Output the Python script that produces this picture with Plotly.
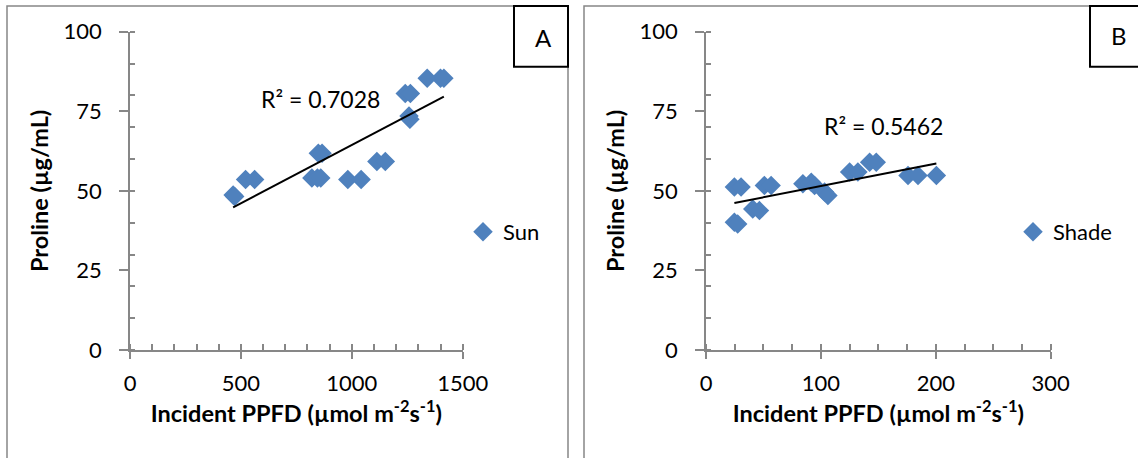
import numpy as np
import plotly.graph_objects as go

# ---- data ----
sun_ppfd = [465, 472, 521, 562, 820, 845, 860, 849, 866, 982, 1042, 1113, 1151,
            1241, 1264, 1258, 1262, 1340, 1400, 1415]
sun_proline = [48.7, 48.2, 53.6, 53.6, 54.0, 54.0, 54.0, 61.8, 61.8, 53.6, 53.6,
               59.2, 59.2, 80.6, 80.6, 73.5, 72.5, 85.4, 85.4, 85.4]
shade_ppfd = [24.7, 30.5, 24.7, 27.6, 40.7, 46.5, 50.8, 56.7, 84.3, 91.6, 94.5,
              103.2, 106.1, 125.0, 132.2, 142.4, 148.2, 175.8, 184.5, 200.5]
shade_proline = [51.2, 51.2, 40.1, 39.6, 44.3, 43.8, 51.7, 51.7, 52.2, 52.7, 51.7,
                 49.6, 48.5, 55.9, 55.9, 59.0, 59.0, 54.8, 54.8, 54.8]
r2_labels = ["R² = 0.7028", "R² = 0.5462"]
panel_labels = ["A", "B"]
series_names = ["Sun", "Shade"]
xtitle = "Incident PPFD (µmol m<sup>-2</sup>s<sup>-1</sup>)"
ytitle = "Proline (µg/mL)"

W, H = 1138, 458
FONT = "Lato, 'Open Sans', sans-serif"
BLUE = "#4F81BD"
GRAY = "#878787"


def px(x):
    return x / W


def py(y):
    return 1 - y / H


def trend(xs, ys):
    xs = np.array(xs, float)
    ys = np.array(ys, float)
    m, b = np.polyfit(xs, ys, 1)
    xx = np.array([xs.min(), xs.max()])
    return xx, m * xx + b


fig = go.Figure()

fig.add_trace(go.Scatter(x=sun_ppfd, y=sun_proline, mode="markers", name=series_names[0],
                         marker=dict(symbol="diamond", size=15, color=BLUE, line=dict(width=0)),
                         xaxis="x", yaxis="y", legend="legend"))
tx, ty = trend(sun_ppfd, sun_proline)
fig.add_trace(go.Scatter(x=tx, y=ty, mode="lines", line=dict(color="black", width=2),
                         showlegend=False, xaxis="x", yaxis="y", hoverinfo="skip"))

fig.add_trace(go.Scatter(x=shade_ppfd, y=shade_proline, mode="markers", name=series_names[1],
                         marker=dict(symbol="diamond", size=15, color=BLUE, line=dict(width=0)),
                         xaxis="x2", yaxis="y2", legend="legend2"))
tx2, ty2 = trend(shade_ppfd, shade_proline)
fig.add_trace(go.Scatter(x=tx2, y=ty2, mode="lines", line=dict(color="black", width=2),
                         showlegend=False, xaxis="x2", yaxis="y2", hoverinfo="skip"))

tickfont = dict(family=FONT, size=22, color="black")
titlefont = dict(family=FONT, size=23.5, color="black", weight="bold")


def xaxis(domain, rng, dtick, mdtick, anchor):
    return dict(domain=domain, range=rng, anchor=anchor, dtick=dtick, tick0=0,
                showgrid=False, zeroline=False, showline=True, linecolor=GRAY, linewidth=1.5,
                ticks="outside", ticklen=7, tickcolor=GRAY, tickwidth=1.5,
                minor=dict(dtick=mdtick, tick0=0, ticks="inside", ticklen=6, tickcolor=GRAY,
                           tickwidth=1.5, showgrid=False),
                tickfont=tickfont, ticklabelstandoff=6,
                title=dict(text=xtitle, font=titlefont, standoff=6), automargin=False)


def yaxis(domain, anchor):
    return dict(domain=domain, range=[0, 100], anchor=anchor, dtick=25, tick0=0,
                showgrid=False, zeroline=False, showline=True, linecolor=GRAY, linewidth=1.5,
                ticks="outside", ticklen=9, tickcolor=GRAY, tickwidth=1.5,
                minor=dict(dtick=10, tick0=0, ticks="inside", ticklen=5, tickcolor=GRAY,
                           tickwidth=1.5, showgrid=False),
                tickfont=tickfont, ticklabelstandoff=13,
                title=dict(text=ytitle, font=titlefont, standoff=8), automargin=False)


ydom = [py(350), py(31.7)]
fig.update_layout(
    width=W, height=H, margin=dict(l=0, r=0, t=0, b=0),
    paper_bgcolor="white", plot_bgcolor="white",
    font=dict(family=FONT, size=22, color="black"),
    xaxis=xaxis([px(130), px(462.7)], [0, 1500], 500, 100, "y"),
    yaxis=yaxis(ydom, "x"),
    xaxis2=xaxis([px(706), px(1050.7)], [0, 300], 100, 25, "y2"),
    yaxis2=yaxis(ydom, "x2"),
    legend=dict(x=px(463), y=py(232), xanchor="left", yanchor="middle",
                font=dict(family=FONT, size=22), bgcolor="rgba(0,0,0,0)"),
    legend2=dict(x=px(1013), y=py(232), xanchor="left", yanchor="middle",
                 font=dict(family=FONT, size=22), bgcolor="rgba(0,0,0,0)"),
    showlegend=True,
)

# panel frames
fig.add_shape(type="rect", xref="paper", yref="paper", x0=px(7), x1=px(568), y0=py(470), y1=py(6),
              line=dict(color=GRAY, width=1.5), layer="below")
fig.add_shape(type="rect", xref="paper", yref="paper", x0=px(584), x1=px(1150), y0=py(470), y1=py(6),
              line=dict(color=GRAY, width=1.5), layer="below")
# panel letter boxes
fig.add_shape(type="rect", xref="paper", yref="paper", x0=px(514), x1=px(568), y0=py(66.7), y1=py(6),
              line=dict(color="black", width=2))
fig.add_shape(type="rect", xref="paper", yref="paper", x0=px(1090), x1=px(1150), y0=py(66.7), y1=py(6),
              line=dict(color="black", width=2))


def label(x, y, text, size):
    fig.add_annotation(xref="paper", yref="paper", x=px(x), y=py(y), text=text,
                       xanchor="center", yanchor="middle", showarrow=False,
                       font=dict(family=FONT, size=size, color="black"))


label(543, 37, panel_labels[0], 24)
label(1119, 36, panel_labels[1], 24)
label(320, 99, r2_labels[0], 23)
label(883, 126, r2_labels[1], 23)

fig.write_html("out.html")
